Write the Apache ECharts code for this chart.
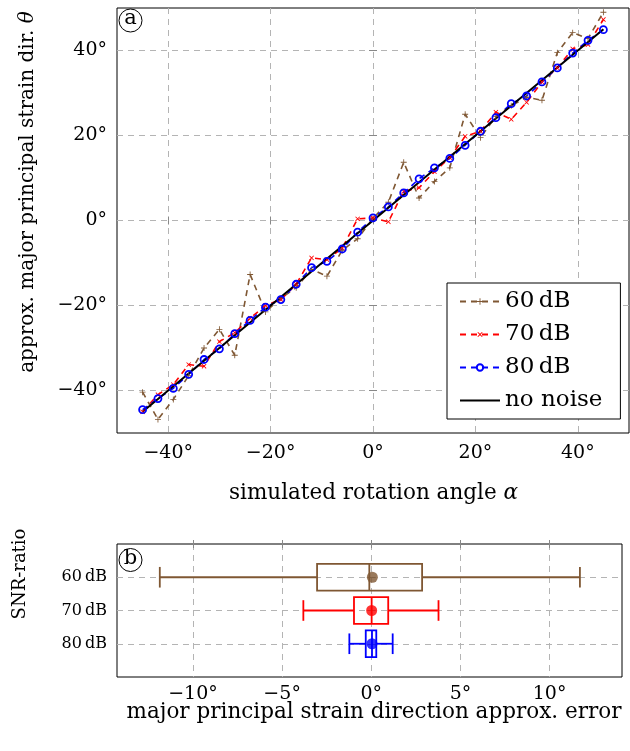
<!DOCTYPE html>
<html><head><meta charset="utf-8">
<script src="https://cdn.jsdelivr.net/npm/echarts@6/dist/echarts.min.js"></script>
<style>html,body{margin:0;padding:0;background:#fff}#c{width:630px;height:751px}</style>
</head><body><div id="c"></div>
<script>
// ---------- data ----------
const angles  = [-45,-42,-39,-36,-33,-30,-27,-24,-21,-18,-15,-12,-9,-6,-3,0,3,6,9,12,15,18,21,24,27,30,33,36,39,42,45];
const snr60   = [-40.4,-46.8,-42.1,-36.5,-30.0,-25.6,-31.7,-12.7,-21.5,-18.3,-15.8,-11.5,-13.1,-7.0,-4.3,0.5,4.3,13.7,5.3,9.2,12.4,25.0,19.5,24.5,27.0,29.0,28.3,39.5,44.2,42.8,49.0];
const snr70   = [-45.0,-41.0,-38.6,-33.9,-34.3,-28.5,-26.4,-23.0,-20.0,-18.6,-15.0,-8.8,-9.2,-6.5,0.4,0.6,-0.3,6.9,7.7,11.5,14.8,19.8,21.0,25.5,23.8,27.8,32.6,35.9,40.4,41.4,47.3];
const snr80   = [-44.5,-41.9,-39.5,-36.2,-32.7,-30.2,-26.6,-23.5,-20.4,-18.6,-15.0,-11.1,-9.6,-6.7,-2.75,0.6,3.2,6.5,9.8,12.4,14.6,17.7,21.0,24.2,27.5,29.3,32.6,35.9,39.4,42.4,44.9];
const noNoise = [-45,-42,-39,-36,-33,-30,-27,-24,-21,-18,-15,-12,-9,-6,-3,0,3,6,9,12,15,18,21,24,27,30,33,36,39,42,45];
const topTicks = [-40,-20,0,20,40];

const boxCategories = ['60\u2009dB','70\u2009dB','80\u2009dB'];
const boxPositions  = [1,2,3];
const boxLow    = [-11.86,-3.81,-1.23];
const boxQ1     = [-3.04,-0.97,-0.31];
const boxMedian = [-0.11,0.02,0.04];
const boxQ3     = [2.85,0.95,0.28];
const boxHigh   = [11.70,3.77,1.20];
const boxMean   = [0.06,0.02,0.04];
const bottomTicks = [-10,-5,0,5,10];

// ---------- styles ----------
const FONT = '"DejaVu Serif", "Liberation Serif", serif';
const BROWN = '#7f5733', RED = '#ff0000', BLUE = '#0000ff';
const boxColors = [BROWN, RED, BLUE];
const PLUS = 'path://M4.3,0H5.7V4.3H10V5.7H5.7V10H4.3V5.7H0V4.3H4.3Z';
const gridLine = {show:true, lineStyle:{color:'#b4b4b4', type:[6,5], width:1}};
const tickIn = {show:true, inside:true, length:4, lineStyle:{color:'#888'}};
const deg = v => (v < 0 ? '\u2212' + (-v) : '' + v) + '°';
const TICKFS = 19, TITLEFS = 21.5, YTITLEFS = 20;

const pairs = arr => angles.map((a,i) => [a, arr[i]]);

const chart = echarts.init(document.getElementById('c'), null, {renderer:'canvas'});

function renderBox(params, api) {
  const y = api.value(5);
  const col = boxColors[params.dataIndex];
  const pL = api.coord([api.value(0), y]);
  const p1 = api.coord([api.value(1), y]);
  const pM = api.coord([api.value(2), y]);
  const p3 = api.coord([api.value(3), y]);
  const pH = api.coord([api.value(4), y]);
  const hb = api.size([0, 0.4])[1];
  const hc = api.size([0, 0.31])[1];
  const st = {stroke: col, lineWidth: 1.8, fill: null};
  return {type:'group', children:[
    {type:'line', shape:{x1:pL[0], y1:pL[1], x2:p1[0], y2:p1[1]}, style:st},
    {type:'line', shape:{x1:p3[0], y1:p3[1], x2:pH[0], y2:pH[1]}, style:st},
    {type:'line', shape:{x1:pL[0], y1:pL[1]-hc, x2:pL[0], y2:pL[1]+hc}, style:st},
    {type:'line', shape:{x1:pH[0], y1:pH[1]-hc, x2:pH[0], y2:pH[1]+hc}, style:st},
    {type:'rect', shape:{x:p1[0], y:p1[1]-hb, width:p3[0]-p1[0], height:2*hb}, style:st},
    {type:'line', shape:{x1:pM[0], y1:pM[1]-hb, x2:pM[0], y2:pM[1]+hb}, style:st}
  ]};
}

const option = {
  backgroundColor:'#fff',
  animation:false,
  textStyle:{fontFamily:FONT},
  grid:[
    {left:117, top:8, width:512, height:425, show:true, borderColor:'#000', borderWidth:1},
    {left:117, top:544, width:505, height:133, show:true, borderColor:'#000', borderWidth:1}
  ],
  xAxis:[
    {type:'value', gridIndex:0, min:-50, max:50, position:'bottom',
     axisLine:{show:false}, axisTick:Object.assign({customValues:topTicks}, tickIn),
     axisLabel:{customValues:topTicks, formatter:deg, margin:11, fontFamily:FONT, fontSize:TICKFS, color:'#000'},
     splitLine:gridLine},
    {type:'value', gridIndex:0, min:-50, max:50, position:'top',
     axisLine:{show:false}, axisTick:Object.assign({customValues:topTicks}, tickIn),
     axisLabel:{show:false}, splitLine:{show:false}},
    {type:'value', gridIndex:1, min:-14.26, max:14.06, position:'bottom',
     axisLine:{show:false}, axisTick:Object.assign({customValues:bottomTicks}, tickIn),
     axisLabel:{customValues:bottomTicks, formatter:deg, margin:8, fontFamily:FONT, fontSize:TICKFS, color:'#000'},
     splitLine:gridLine},
    {type:'value', gridIndex:1, min:-14.26, max:14.06, position:'top',
     axisLine:{show:false}, axisTick:Object.assign({customValues:bottomTicks}, tickIn),
     axisLabel:{show:false}, splitLine:{show:false}}
  ],
  yAxis:[
    {type:'value', gridIndex:0, min:-50, max:50, position:'left',
     axisLine:{show:false}, axisTick:Object.assign({customValues:topTicks}, tickIn),
     axisLabel:{customValues:topTicks, formatter:deg, margin:10, fontFamily:FONT, fontSize:TICKFS, color:'#000'},
     splitLine:gridLine},
    {type:'value', gridIndex:0, min:-50, max:50, position:'right',
     axisLine:{show:false}, axisTick:Object.assign({customValues:topTicks}, tickIn),
     axisLabel:{show:false}, splitLine:{show:false}},
    {type:'value', gridIndex:1, min:0, max:4, inverse:true, position:'left',
     axisLine:{show:false}, axisTick:Object.assign({customValues:boxPositions}, tickIn),
     axisLabel:{customValues:boxPositions, formatter:v => boxCategories[v-1] || '', margin:10, fontFamily:FONT, fontSize:16, color:'#000'},
     splitLine:Object.assign({}, gridLine)},
    {type:'value', gridIndex:1, min:0, max:4, inverse:true, position:'right',
     axisLine:{show:false}, axisTick:Object.assign({customValues:boxPositions}, tickIn),
     axisLabel:{show:false}, splitLine:{show:false}}
  ],
  legend:{
    data:['60\u2009dB','70\u2009dB','80\u2009dB',{name:'no noise', itemStyle:{opacity:0}}],
    orient:'vertical', left:447, top:283,
    itemWidth:40, itemHeight:8, itemGap:10,
    padding:[7,18,7,12],
    borderColor:'#000', borderWidth:1, backgroundColor:'#fff',
    textStyle:{fontFamily:FONT, fontSize:23, color:'#000', lineHeight:20}
  },
  series:[
    {name:'60\u2009dB', type:'line', xAxisIndex:0, yAxisIndex:0, data:pairs(snr60),
     color:BROWN,
     lineStyle:{color:BROWN, width:1.6, type:[6,5]},
     symbol:PLUS, symbolSize:6, itemStyle:{color:BROWN}},
    {name:'70\u2009dB', type:'line', xAxisIndex:0, yAxisIndex:0, data:pairs(snr70),
     color:RED,
     lineStyle:{color:RED, width:1.6, type:[6,5]},
     symbol:PLUS, symbolRotate:45, symbolSize:6, itemStyle:{color:RED}},
    {name:'80\u2009dB', type:'line', xAxisIndex:0, yAxisIndex:0, data:pairs(snr80),
     color:BLUE,
     lineStyle:{color:BLUE, width:1.6, type:[6,5]},
     symbol:'circle', symbolSize:7, itemStyle:{color:'rgba(0,0,0,0)', borderColor:BLUE, borderWidth:1.8}},
    {name:'no noise', type:'line', xAxisIndex:0, yAxisIndex:0, data:pairs(noNoise),
     color:'#000', lineStyle:{color:'#000', width:2}, symbol:'none'},
    {name:'box', type:'custom', xAxisIndex:2, yAxisIndex:2,
     data:boxPositions.map((p,i) => [boxLow[i], boxQ1[i], boxMedian[i], boxQ3[i], boxHigh[i], p]),
     renderItem:renderBox, encode:{x:[0,1,2,3,4], y:5}},
    {name:'mean', type:'scatter', xAxisIndex:2, yAxisIndex:2,
     data:boxPositions.map((p,i) => ({value:[boxMean[i], p], itemStyle:{color:boxColors[i]}})),
     symbol:'circle', symbolSize:11, z:5}
  ],
  graphic:[
    {type:'circle', shape:{cx:130.5, cy:20.5, r:11.5}, style:{fill:null, stroke:'#000', lineWidth:1}, z:100},
    {type:'text', x:130.5, y:19, style:{text:'a', font:'21px ' + FONT, fill:'#000', align:'center', verticalAlign:'middle'}, z:100},
    {type:'circle', shape:{cx:130.5, cy:560, r:11.5}, style:{fill:null, stroke:'#000', lineWidth:1}, z:100},
    {type:'text', x:130.5, y:559, style:{text:'b', font:'21px ' + FONT, fill:'#000', align:'center', verticalAlign:'middle'}, z:100},
    {type:'text', x:28, y:192, rotation:Math.PI/2,
     style:{text:'approx. major principal strain dir. {i|θ}', font:YTITLEFS + 'px ' + FONT, fill:'#000', align:'center', verticalAlign:'middle',
            rich:{i:{fontStyle:'italic', fontFamily:FONT, fontSize:YTITLEFS}}}},
    {type:'text', x:20, y:574, rotation:Math.PI/2,
     style:{text:'SNR-ratio', font:'18px ' + FONT, fill:'#000', align:'center', verticalAlign:'middle'}},
    {type:'text', x:373.5, y:493,
     style:{text:'simulated rotation angle {i|α}', font:TITLEFS + 'px ' + FONT, fill:'#000', align:'center', verticalAlign:'middle',
            rich:{i:{fontStyle:'italic', fontFamily:FONT, fontSize:TITLEFS}}}},
    {type:'text', x:374, y:712,
     style:{text:'major principal strain direction approx. error', font:TITLEFS + 'px ' + FONT, fill:'#000', align:'center', verticalAlign:'middle'}}
  ]
};
chart.setOption(option);
</script></body></html>
